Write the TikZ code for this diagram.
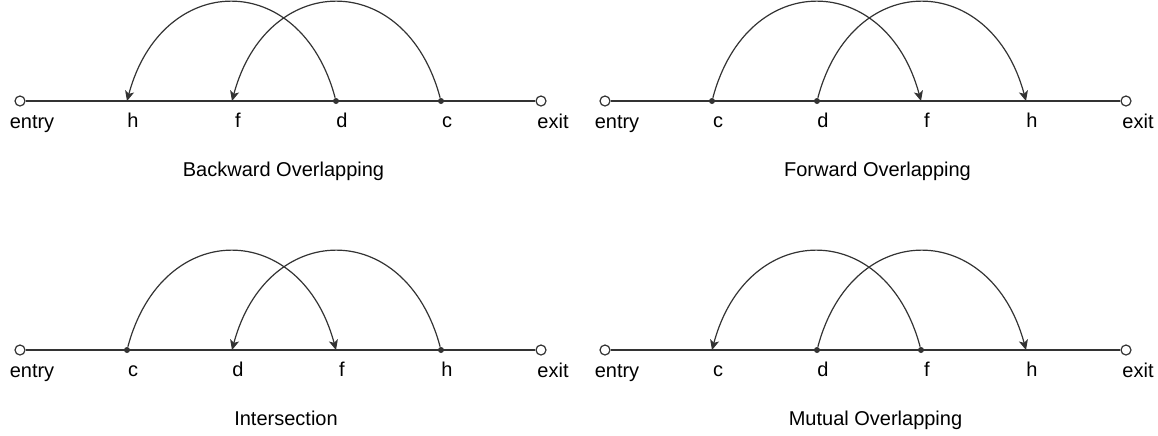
\documentclass[tikz,border=0pt]{standalone}
\usepackage{fontspec}
\setmainfont{Liberation Sans}
\usetikzlibrary{arrows.meta}
\definecolor{linec}{HTML}{333333}

\tikzset{
    pt/.style={circle, inner sep=0pt, minimum size=3pt},
    dot/.style={pt, fill=linec},
    port/.style={circle, draw=linec, fill=white, line width=0.6pt, inner sep=0pt, minimum size=5pt},
    every label/.style={font=\fontsize{10}{12}\selectfont, text height=7pt, text depth=2pt, inner sep=0pt},
    tag/.style={xshift=3pt, yshift=-4.5pt},
    endtag/.style={xshift=6pt, yshift=-3.5pt},
    wire/.style={draw=linec, line width=0.6pt},
    fwd/.style={-{Stealth[length=5pt,width=4.6pt,inset=1.3pt]}, out=75, in=105, looseness=1.65},
    bwd/.style={-{Stealth[length=5pt,width=4.6pt,inset=1.3pt]}, out=105, in=75, looseness=1.65},
    title/.style={anchor=base, inner sep=0pt, font=\fontsize{10}{12}\selectfont},
}

\begin{document}
\begin{tikzpicture}[x=0.5pt, y=-0.5pt]
    \useasboundingbox (0,0) rectangle (1158,435);

    % backward overlapping
    \begin{scope}[name prefix=bo-]
        \node [port, label={[endtag]below:entry}] (entry) at (20,101) {};
        \node [pt, label={[tag]below:h}] (h) at (127,101) {};
        \node [pt, label={[tag]below:f}] (f) at (232,101) {};
        \node [dot, label={[tag]below:d}] (d) at (336,101) {};
        \node [dot, label={[tag]below:c}] (c) at (441,101) {};
        \node [port, label={[endtag]below:exit}] (exit) at (541,101) {};
        \node [title] (name) at (283.5,176) {Backward Overlapping};
        \draw [wire] (entry) -- (exit);
        \draw [wire, bwd] (d) to (h.center);
        \draw [wire, bwd] (c) to (f.center);
    \end{scope}

    % forward overlapping
    \begin{scope}[shift={(585,0)}, name prefix=fo-]
        \node [port, label={[endtag]below:entry}] (entry) at (20,101) {};
        \node [dot, label={[tag]below:c}] (c) at (127,101) {};
        \node [dot, label={[tag]below:d}] (d) at (232,101) {};
        \node [pt, label={[tag]below:f}] (f) at (336,101) {};
        \node [pt, label={[tag]below:h}] (h) at (441,101) {};
        \node [port, label={[endtag]below:exit}] (exit) at (541,101) {};
        \node [title] (name) at (292.5,176) {Forward Overlapping};
        \draw [wire] (entry) -- (exit);
        \draw [wire, fwd] (c) to (f.center);
        \draw [wire, fwd] (d) to (h.center);
    \end{scope}

    % intersection
    \begin{scope}[name prefix=is-]
        \node [port, label={[endtag]below:entry}] (entry) at (20,350) {};
        \node [dot, label={[tag]below:c}] (c) at (127,350) {};
        \node [pt, label={[tag]below:d}] (d) at (232,350) {};
        \node [pt, label={[tag]below:f}] (f) at (336,350) {};
        \node [dot, label={[tag]below:h}] (h) at (441,350) {};
        \node [port, label={[endtag]below:exit}] (exit) at (541,350) {};
        \node [title] (name) at (286,425) {Intersection};
        \draw [wire] (entry) -- (exit);
        \draw [wire, fwd] (c) to (f.center);
        \draw [wire, bwd] (h) to (d.center);
    \end{scope}

    % mutual overlapping
    \begin{scope}[shift={(585,0)}, name prefix=mo-]
        \node [port, label={[endtag]below:entry}] (entry) at (20,350) {};
        \node [pt, label={[tag]below:c}] (c) at (127,350) {};
        \node [dot, label={[tag]below:d}] (d) at (232,350) {};
        \node [dot, label={[tag]below:f}] (f) at (336,350) {};
        \node [pt, label={[tag]below:h}] (h) at (441,350) {};
        \node [port, label={[endtag]below:exit}] (exit) at (541,350) {};
        \node [title] (name) at (290.5,425) {Mutual Overlapping};
        \draw [wire] (entry) -- (exit);
        \draw [wire, bwd] (f) to (c.center);
        \draw [wire, fwd] (d) to (h.center);
    \end{scope}
\end{tikzpicture}
\end{document}
